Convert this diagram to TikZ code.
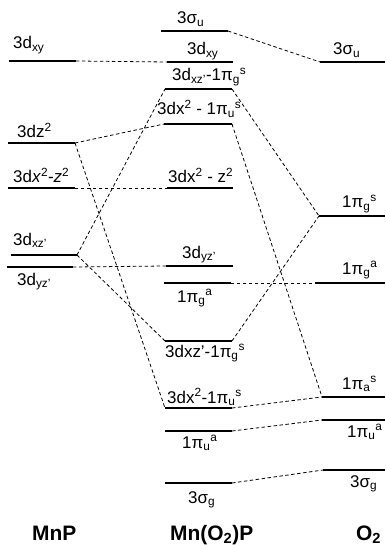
\documentclass[tikz,border=0pt]{standalone}
\usepackage{fontspec}
\setmainfont{Liberation Sans}
\usetikzlibrary{positioning}
\tikzset{
  level/.style = {line width=1.7pt, black},
  link/.style  = {dash pattern=on 3.5pt off 2.5pt, line width=0.8pt, black},
  lbl/.style   = {anchor=base west, inner sep=0pt, font=\fontsize{17}{19}\selectfont},
  title/.style = {anchor=base west, inner sep=0pt, font=\fontsize{21}{24}\selectfont\bfseries},
}

\begin{document}
\begin{tikzpicture}[x=1bp, y=-1bp]
  \useasboundingbox (0,0) rectangle (385,545);
  % energy levels: MnP, Mn(O2)P, O2
  \foreach \nm/\xa/\xb/\y in {mnpxy/9/76/61, mnpzz/8/75/143, mnpxz/8/75/188,
      mnpxzp/11/77/255, mnpyzp/7/73/267,
      midsu/161/228/31, midxy/167/233/62, midxzg/165/232/89, midxxu/164/232/124,
      midxz/167/233/188, midyzp/166/233/266, midga/164/231/283,
      midxzgb/165/232/341, midxxub/165/232/408, midua/165/232/431, midsg/165/232/483,
      oosu/320/385/62, oogs/319/385/216, ooga/315/385/283,
      ooas/322/385/397, ooua/322/385/420, oosg/323/385/470} {
    \draw[level] (\xa,\y) coordinate (\nm-l) -- (\xb,\y) coordinate (\nm-r);
  }

  % labels
  \node[lbl] (t-mnpxy)  at (13,49)  {3d\textsubscript{xy}};
  \node[lbl] (t-mnpzz)  at (17,138) {3dz\textsuperscript{2}};
  \node[lbl] (t-mnpxz)  at (13,183) {3d\textit{x}\textsuperscript{2}-\textit{z}\textsuperscript{2}};
  \node[lbl] (t-mnpxzp) at (13,245) {3d\textsubscript{xz'}};
  \node[lbl] (t-mnpyzp) at (17,285) {3d\textsubscript{yz'}};

  \node[lbl] (t-midsu)   at (177,24)  {3σ\textsubscript{u}};
  \node[lbl] (t-midxy)   at (187,55)  {3d\textsubscript{xy}};
  \node[lbl] (t-midxzg)  at (172,81)  {3d\textsubscript{xz'}-1π\textsubscript{g}\textsuperscript{s}};
  \node[lbl] (t-midxxu)  at (157,115) {3dx\textsuperscript{2} - 1π\textsubscript{u}\textsuperscript{s}};
  \node[lbl] (t-midxz)   at (168,183) {3dx\textsuperscript{2} - z\textsuperscript{2}};
  \node[lbl] (t-midyzp)  at (182,258) {3d\textsubscript{yz'}};
  \node[lbl] (t-midga)   at (177,302) {1π\textsubscript{g}\textsuperscript{a}};
  \node[lbl] (t-midxzgb) at (165,357) {3dxz'-1π\textsubscript{g}\textsuperscript{s}};
  \node[lbl] (t-midxxub) at (167,403) {3dx\textsuperscript{2}-1π\textsubscript{u}\textsuperscript{s}};
  \node[lbl] (t-midua)   at (182,448) {1π\textsubscript{u}\textsuperscript{a}};
  \node[lbl] (t-midsg)   at (188,503) {3σ\textsubscript{g}};

  \node[lbl] (t-oosu) at (333,55)  {3σ\textsubscript{u}};
  \node[lbl] (t-oogs) at (342,208) {1π\textsubscript{g}\textsuperscript{s}};
  \node[lbl] (t-ooga) at (342,274) {1π\textsubscript{g}\textsuperscript{a}};
  \node[lbl] (t-ooas) at (342,389) {1π\textsubscript{a}\textsuperscript{s}};
  \node[lbl] (t-ooua) at (347,437) {1π\textsubscript{u}\textsuperscript{a}};
  \node[lbl] (t-oosg) at (350,487) {3σ\textsubscript{g}};

  \node[title] (t-mnp) at (32,540)  {MnP};
  \node[title] (t-mid) at (170,540) {Mn(O\textsubscript{2})P};
  \node[title] (t-oo)  at (356,540) {O\textsubscript{2}};

  % correlation lines
  \draw[link] (mnpxy-r)  -- (midxy-l);
  \draw[link] (mnpzz-r)  -- (midxxu-l);
  \draw[link] (mnpzz-r)  -- (midxxub-l);
  \draw[link] (mnpxz-r)  -- (midxz-l);
  \draw[link] (mnpxzp-r) -- (midxzg-l);
  \draw[link] (mnpxzp-r) -- (midxzgb-l);
  \draw[link] (mnpyzp-r) -- (midyzp-l);
  \draw[link] (midsu-r)   -- (oosu-l);
  \draw[link] (midxzg-r)  -- (oogs-l);
  \draw[link] (midxzgb-r) -- (oogs-l);
  \draw[link] (midxxu-r)  -- (ooas-l);
  \draw[link] (midxxub-r) -- (ooas-l);
  \draw[link] (midga-r)   -- (ooga-l);
  \draw[link] (midua-r)   -- (ooua-l);
  \draw[link] (midsg-r)   -- (oosg-l);
\end{tikzpicture}
\end{document}
